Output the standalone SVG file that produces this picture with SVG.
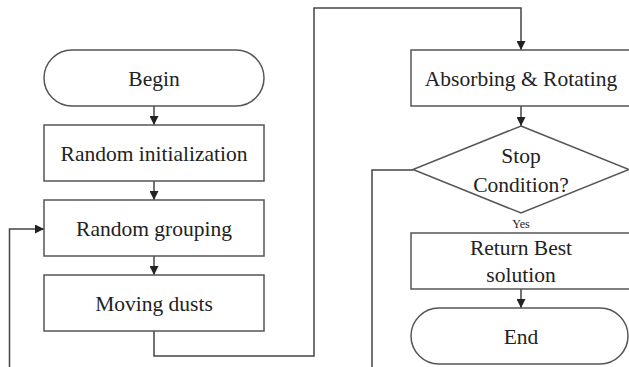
<svg xmlns="http://www.w3.org/2000/svg" width="629" height="367" viewBox="0 0 629 367">
<defs>
<style>
.s{fill:#fff;stroke:#555;stroke-width:1.5}
.t{font-family:"Liberation Serif","DejaVu Serif",serif;font-size:21.5px;fill:#222;text-anchor:middle}
.c{fill:none;stroke:#444;stroke-width:1.5}
</style>
<marker id="a" viewBox="0 0 10 10" refX="10" refY="5" markerWidth="9" markerHeight="9" markerUnits="userSpaceOnUse" orient="auto">
<path d="M0,0 L10,5 L0,10 z" fill="#222"/>
</marker>
</defs>
<g id="connectors">
<line class="c" x1="154" y1="106" x2="154" y2="125" marker-end="url(#a)"/>
<line class="c" x1="154" y1="181" x2="154" y2="200" marker-end="url(#a)"/>
<line class="c" x1="154" y1="256" x2="154" y2="275" marker-end="url(#a)"/>
<polyline class="c" points="154,331 154,356 314,356 314,8 521,8 521,50" marker-end="url(#a)"/>
<line class="c" x1="521" y1="106" x2="521" y2="126" marker-end="url(#a)"/>
<line class="c" x1="521" y1="289" x2="521" y2="308" marker-end="url(#a)"/>
<polyline class="c" points="413,170 372,170 372,367"/>
<polyline class="c" points="9.5,367 9.5,229 44,229" marker-end="url(#a)"/>
<text x="521" y="228" style="font-family:'Liberation Serif','DejaVu Serif',serif;font-size:12px;fill:#222;text-anchor:middle">Yes</text>
</g>
<g id="begin">
<rect class="s" x="44" y="50" width="220" height="56" rx="28"/>
<text class="t" x="154" y="86">Begin</text>
</g>
<g id="random-init">
<rect class="s" x="44" y="125" width="220" height="56"/>
<text class="t" x="154" y="161">Random initialization</text>
</g>
<g id="random-grouping">
<rect class="s" x="44" y="200" width="220" height="56"/>
<text class="t" x="154" y="236">Random grouping</text>
</g>
<g id="moving-dusts">
<rect class="s" x="44" y="275" width="220" height="56"/>
<text class="t" x="154" y="311">Moving dusts</text>
</g>
<g id="absorbing">
<rect class="s" x="411" y="50" width="222" height="56"/>
<text class="t" x="521" y="86">Absorbing &amp; Rotating</text>
</g>
<g id="stop">
<polygon class="s" points="521,126 629,169.5 521,213 413,169.5"/>
<text class="t" x="521" y="163">Stop</text>
<text class="t" x="521" y="192">Condition?</text>
</g>
<g id="return">
<rect class="s" x="411" y="233" width="222" height="56"/>
<text class="t" x="521" y="255">Return Best</text>
<text class="t" x="521" y="282">solution</text>
</g>
<g id="end">
<rect class="s" x="411" y="308" width="217" height="56" rx="28"/>
<text class="t" x="521" y="344">End</text>
</g>
</svg>
